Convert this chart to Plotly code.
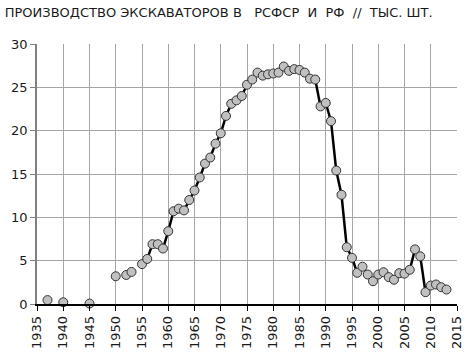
import plotly.graph_objects as go

title_text = "ПРОИЗВОДСТВО ЭКСКАВАТОРОВ В   РСФСР  И  РФ  //  ТЫС. ШТ."

years = list(range(1937, 2014))
values = [
    0.45, None, None, 0.2, None, None, None, None, 0.05, None,  # 1937-1946
    None, None, None, 3.2, None, 3.35, 3.7, None, 4.6, 5.2,     # 1947-1956
    6.9, 6.9, 6.4, 8.4, 10.7, 11.0, 10.8, 12.0, 13.1, 14.6,     # 1957-1966
    16.2, 16.9, 18.5, 19.7, 21.7, 23.1, 23.5, 24.0, 25.3, 25.9, # 1967-1976
    26.7, 26.35, 26.5, 26.6, 26.7, 27.4, 26.9, 27.1, 27.0, 26.7,# 1977-1986
    26.0, 25.9, 22.8, 23.2, 21.1, 15.4, 12.6, 6.55, 5.33, 3.6,  # 1987-1996
    4.3, 3.4, 2.63, 3.4, 3.67, 3.1, 2.8, 3.55, 3.5, 3.95,       # 1997-2006
    6.3, 5.5, 1.36, 2.13, 2.25, 1.94, 1.67,                     # 2007-2013
]

x_ticks = list(range(1935, 2016, 5))
y_ticks = list(range(0, 31, 5))

fig = go.Figure()
fig.add_trace(go.Scatter(
    x=years, y=values, mode="lines+markers", connectgaps=False,
    line=dict(color="black", width=2.5),
    marker=dict(size=9, color="#c0c0c0", line=dict(color="#333333", width=1)),
    showlegend=False, cliponaxis=False,
))

fig.update_layout(
    width=476, height=363,
    margin=dict(l=37, r=19, t=44, b=59),
    paper_bgcolor="white", plot_bgcolor="white",
    font=dict(family="DejaVu Sans", size=13, color="#1a1a1a"),
    title=dict(text=title_text.replace(" ", "\u00a0"), x=0.01, xanchor="left",
               y=0.967, yanchor="middle",
               font=dict(family="DejaVu Sans", size=13, color="#1a1a1a")),
    xaxis=dict(range=[1935, 2015], tickvals=x_ticks, ticktext=[str(t) for t in x_ticks],
               tickangle=-90, showgrid=True, gridcolor="#a6a6a6", gridwidth=1,
               showline=True, linecolor="black", linewidth=1.5,
               ticks="outside", ticklen=5, tickcolor="black", zeroline=False),
    yaxis=dict(range=[0, 30], tickvals=y_ticks, showgrid=True, gridcolor="#a6a6a6",
               gridwidth=1, showline=True, linecolor="#808080", linewidth=1.5,
               ticks="outside", ticklen=5, tickcolor="#808080", zeroline=False),
)

fig.write_html("out.html")
